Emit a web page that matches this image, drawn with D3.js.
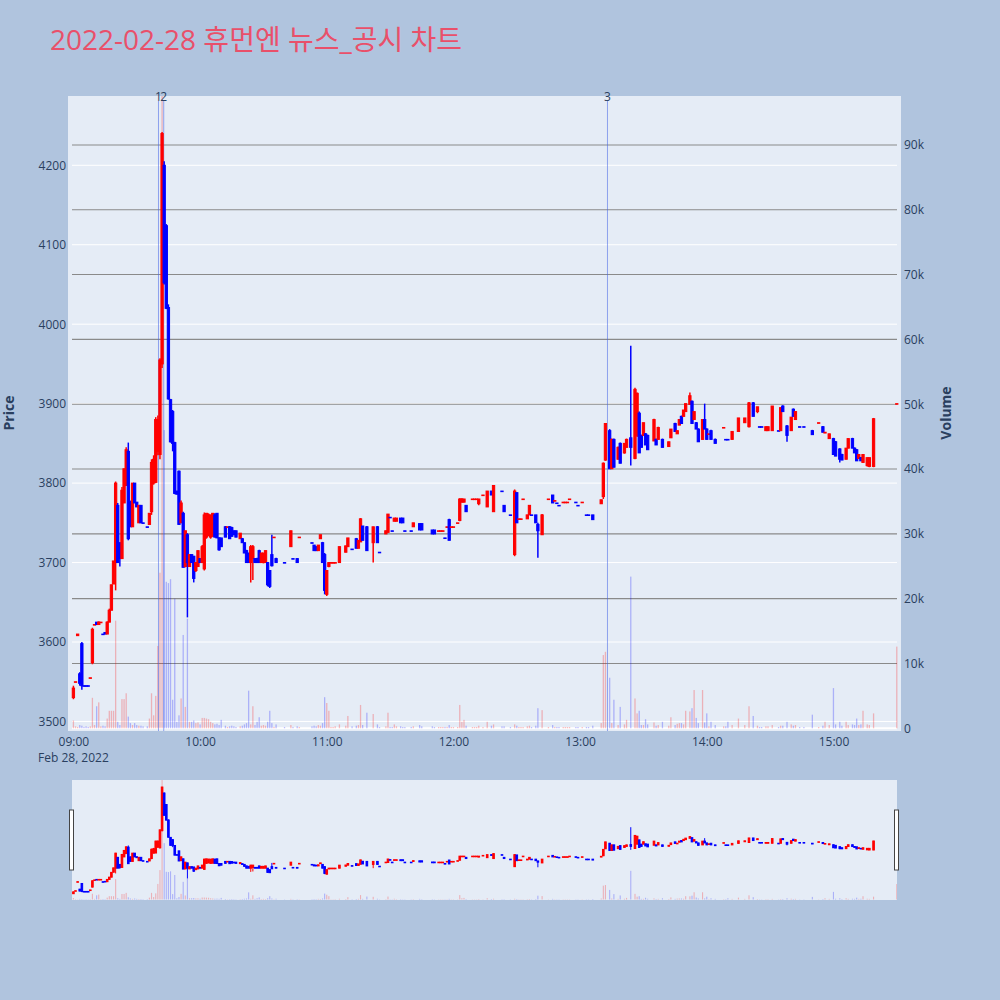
<!DOCTYPE html>
<html>
<head>
<meta charset="utf-8">
<script src="https://cdn.jsdelivr.net/npm/d3@7"></script>
<style>
  body { margin: 0; background: #b0c4de; }
  text { font-family: "Open Sans", "Noto Sans CJK KR", sans-serif; }
</style>
</head>
<body>
<svg id="chart" width="1000" height="1000"></svg>
<script>
// 1-minute candles, 2022-02-28 (one line per hour)
const times = [
  "09:00","09:01","09:02","09:03","09:04","09:05","09:06","09:07","09:08","09:09","09:10","09:11","09:12","09:13","09:14","09:15","09:16","09:17","09:18","09:19","09:20","09:21","09:22","09:23","09:24","09:25","09:26","09:27","09:28","09:29","09:30","09:31","09:32","09:33","09:35","09:36","09:37","09:38","09:39","09:40","09:41","09:42","09:43","09:44","09:45","09:46","09:47","09:48","09:49","09:50","09:51","09:52","09:53","09:54","09:55","09:56","09:57","09:58","09:59",
  "10:00","10:01","10:02","10:03","10:04","10:05","10:06","10:07","10:08","10:09","10:10","10:12","10:13","10:14","10:15","10:16","10:17","10:19","10:20","10:21","10:22","10:23","10:24","10:25","10:26","10:27","10:28","10:29","10:30","10:31","10:32","10:33","10:34","10:35","10:36","10:40","10:43","10:44","10:46","10:47","10:53","10:54","10:55","10:56","10:57","10:58","10:59",
  "11:00","11:01","11:02","11:03","11:04","11:06","11:09","11:10","11:12","11:14","11:15","11:16","11:17","11:19","11:22","11:24","11:25","11:28","11:29","11:30","11:31","11:32","11:33","11:35","11:36","11:37","11:40","11:41","11:44","11:45","11:50","11:51","11:53","11:54","11:55","11:56","11:57","11:58","11:59",
  "12:00","12:02","12:03","12:04","12:05","12:06","12:09","12:10","12:11","12:12","12:14","12:16","12:18","12:19","12:23","12:24","12:27","12:29","12:30","12:31","12:32","12:33","12:35","12:36","12:37","12:39","12:40","12:42","12:45","12:47","12:48","12:49","12:50","12:52","12:53","12:54","12:55","12:58","12:59",
  "13:01","13:03","13:04","13:06","13:10","13:11","13:12","13:14","13:15","13:16","13:18","13:19","13:21","13:22","13:24","13:26","13:27","13:28","13:29","13:30","13:31","13:32","13:35","13:36","13:37","13:39","13:42","13:43","13:45","13:46","13:47","13:48","13:49","13:50","13:52","13:53","13:54","13:55","13:56","13:58","13:59",
  "14:00","14:01","14:02","14:04","14:08","14:09","14:10","14:12","14:15","14:18","14:20","14:22","14:24","14:25","14:26","14:28","14:29","14:31","14:34","14:35","14:36","14:38","14:40","14:41","14:42","14:44","14:46","14:50","14:53","14:55","14:56","14:58",
  "15:00","15:01","15:03","15:04","15:06","15:07","15:09","15:10","15:11","15:12","15:13","15:14","15:16","15:17","15:19","15:30"
];
const opens = [
  3530,3550,3608,3560,3598,3545,3545,3545,3555,3574,3622,3625,3622,3625,3610,3612,3610,3625,3640,3673,3700,3772,3725,3705,3775,3797,3840,3775,3745,3800,3776,3750,3772,3750,3745,3748,3764,3800,3801,3840,3836,3950,4200,4124,4021,3905,3890,3851,3790,3815,3750,3762,3695,3735,3695,3710,3708,3690,3695,
  3705,3700,3692,3732,3735,3732,3733,3760,3762,3731,3731,3745,3745,3745,3744,3740,3740,3730,3730,3725,3715,3712,3700,3705,3705,3705,3715,3700,3700,3700,3700,3690,3710,3732,3705,3700,3720,3705,3705,3732,3725,3722,3720,3715,3730,3725,3710,
  3660,3695,3700,3700,3700,3700,3713,3720,3717,3730,3718,3726,3746,3745,3725,3745,3713,3736,3738,3757,3740,3752,3752,3756,3756,3740,3740,3745,3749,3749,3741,3741,3740,3740,3740,3731,3745,3754,3745,
  3745,3750,3753,3776,3776,3772,3780,3780,3780,3774,3785,3770,3790,3764,3790,3772,3760,3710,3788,3755,3755,3780,3755,3760,3760,3760,3748,3735,3780,3785,3778,3775,3772,3776,3776,3776,3780,3776,3772,
  3776,3760,3760,3760,3774,3783,3829,3866,3818,3855,3830,3850,3838,3845,3857,3831,3860,3888,3860,3860,3862,3860,3853,3855,3855,3855,3846,3857,3875,3862,3873,3884,3884,3890,3899,3903,3880,3876,3868,3855,3880,
  3868,3862,3866,3855,3870,3855,3855,3855,3865,3876,3871,3901,3890,3871,3871,3866,3866,3866,3866,3866,3897,3872,3866,3893,3880,3871,3871,3866,3876,3871,3863,3856,
  3856,3852,3843,3836,3830,3844,3856,3844,3842,3831,3832,3826,3822,3821,3821,3900
];
const highs = [
  3545,3550,3610,3562,3600,3545,3545,3545,3555,3618,3622,3625,3626,3625,3610,3612,3626,3642,3672,3702,3802,3775,3725,3795,3818,3845,3851,3778,3800,3800,3776,3772,3772,3750,3745,3762,3830,3835,3883,3885,3957,4242,4205,4126,4025,3906,3892,3852,3790,3816,3778,3764,3740,3737,3710,3710,3708,3700,3715,
  3705,3722,3763,3762,3762,3760,3762,3762,3762,3732,3731,3746,3745,3746,3745,3740,3740,3737,3731,3725,3716,3712,3722,3722,3705,3706,3716,3712,3712,3715,3700,3690,3735,3732,3706,3700,3740,3705,3705,3732,3725,3722,3720,3722,3735,3726,3712,
  3690,3700,3700,3700,3700,3720,3721,3731,3717,3731,3728,3756,3746,3746,3745,3746,3713,3740,3761,3757,3740,3756,3756,3756,3756,3740,3740,3750,3749,3749,3741,3741,3740,3740,3740,3731,3745,3755,3745,
  3745,3750,3781,3781,3780,3772,3780,3780,3780,3780,3785,3790,3790,3797,3790,3772,3760,3792,3788,3755,3755,3780,3760,3772,3760,3760,3750,3761,3780,3785,3778,3775,3772,3776,3776,3776,3780,3776,3772,
  3776,3760,3760,3760,3779,3826,3875,3868,3856,3856,3846,3851,3850,3856,3973,3920,3914,3890,3861,3876,3863,3861,3881,3856,3871,3856,3852,3868,3876,3866,3880,3885,3892,3900,3914,3904,3890,3877,3869,3880,3900,
  3869,3862,3867,3856,3870,3855,3855,3865,3882,3882,3902,3902,3896,3871,3871,3871,3871,3897,3866,3895,3898,3873,3883,3894,3890,3871,3871,3867,3876,3872,3864,3862,
  3857,3853,3844,3837,3844,3856,3857,3845,3843,3836,3833,3836,3832,3832,3882,3900
];
const lows = [
  3528,3550,3608,3545,3540,3545,3545,3545,3555,3572,3622,3622,3622,3625,3610,3610,3610,3625,3640,3673,3665,3700,3695,3705,3775,3797,3728,3745,3745,3775,3770,3750,3750,3750,3745,3748,3760,3798,3800,3835,3830,3945,4050,4019,3905,3851,3840,3786,3786,3748,3750,3694,3694,3631,3695,3700,3675,3688,3695,
  3700,3700,3690,3730,3733,3730,3733,3732,3731,3715,3720,3732,3745,3730,3733,3735,3732,3730,3725,3712,3700,3700,3675,3678,3700,3700,3700,3700,3699,3700,3670,3668,3695,3732,3700,3700,3720,3705,3700,3732,3725,3715,3715,3715,3730,3700,3660,
  3658,3694,3700,3700,3700,3700,3713,3720,3717,3718,3718,3726,3728,3715,3700,3725,3713,3736,3738,3757,3740,3752,3752,3750,3750,3740,3740,3745,3741,3741,3736,3736,3740,3740,3740,3731,3745,3728,3745,
  3745,3750,3752,3776,3776,3764,3780,3780,3780,3772,3785,3770,3785,3764,3790,3764,3760,3708,3750,3755,3755,3780,3755,3760,3760,3750,3706,3735,3780,3775,3778,3775,3772,3776,3776,3776,3780,3776,3772,
  3776,3760,3760,3754,3774,3780,3828,3818,3818,3820,3830,3825,3837,3845,3822,3830,3858,3838,3845,3860,3848,3842,3853,3848,3855,3845,3846,3857,3865,3862,3873,3875,3884,3890,3899,3875,3880,3868,3852,3855,3868,
  3855,3862,3855,3850,3870,3855,3855,3855,3865,3876,3870,3884,3888,3871,3871,3866,3866,3866,3866,3866,3890,3852,3866,3884,3880,3871,3871,3861,3876,3864,3863,3856,
  3836,3834,3826,3829,3830,3844,3844,3838,3828,3831,3828,3826,3821,3820,3820,3900
];
const closes = [
  3542,3550,3610,3548,3545,3545,3545,3545,3555,3616,3622,3622,3625,3625,3610,3610,3625,3640,3672,3702,3800,3700,3705,3791,3818,3842,3730,3745,3800,3775,3770,3772,3750,3750,3745,3762,3826,3830,3880,3880,3955,4240,4052,4020,3906,3852,3850,3787,3786,3748,3775,3694,3740,3700,3710,3700,3680,3700,3715,
  3700,3720,3760,3762,3760,3760,3762,3732,3731,3716,3720,3732,3745,3730,3733,3735,3732,3737,3725,3712,3700,3700,3720,3720,3700,3700,3700,3712,3712,3715,3672,3670,3696,3732,3700,3700,3740,3705,3700,3732,3725,3715,3715,3722,3735,3700,3665,
  3690,3700,3700,3700,3700,3720,3721,3731,3717,3718,3728,3755,3728,3715,3745,3725,3713,3740,3761,3757,3740,3756,3756,3750,3750,3740,3740,3750,3741,3741,3736,3736,3740,3740,3740,3731,3745,3728,3745,
  3745,3750,3780,3780,3780,3764,3780,3780,3780,3780,3785,3790,3785,3797,3790,3764,3760,3790,3750,3755,3755,3780,3760,3772,3760,3750,3740,3760,3780,3775,3778,3775,3772,3776,3776,3776,3780,3776,3772,
  3776,3760,3760,3754,3779,3825,3875,3818,3855,3820,3845,3825,3850,3855,3845,3918,3913,3838,3845,3876,3848,3842,3880,3848,3870,3845,3852,3868,3865,3866,3880,3875,3892,3900,3910,3875,3890,3868,3852,3880,3868,
  3855,3862,3855,3850,3870,3855,3855,3865,3882,3882,3901,3884,3896,3871,3871,3871,3871,3897,3866,3895,3890,3860,3883,3884,3890,3871,3871,3861,3876,3864,3864,3862,
  3836,3834,3830,3829,3844,3856,3844,3838,3828,3836,3828,3836,3832,3832,3881,3900
];
const volumes = [
  1200,300,200,500,400,200,300,200,300,4700,500,3400,4000,300,400,300,1500,2700,2700,2700,16600,1000,500,4500,4500,5400,1800,800,500,800,500,400,400,300,300,1500,5400,2000,5000,12700,24000,150000,46000,22600,22400,23000,4400,20000,1000,2000,4600,14400,3300,16900,1000,1000,1200,800,900,
  600,1600,1600,1500,1400,1000,800,600,700,500,1300,400,200,300,400,300,200,300,400,600,800,5800,600,3400,500,1000,1700,400,500,400,1000,2700,800,200,600,200,500,200,300,200,300,400,300,500,400,800,4800,
  3900,2700,200,200,300,600,400,1900,300,400,500,3600,500,2400,2200,600,200,300,2400,200,200,600,300,300,200,200,200,300,500,300,300,200,200,200,200,200,200,500,200,
  200,200,3600,1000,1300,400,200,200,200,400,200,1000,400,600,300,300,200,600,400,200,200,200,300,400,200,400,3100,2800,200,500,200,200,200,200,200,200,200,200,200,
  200,200,200,400,800,11300,11800,7800,800,4400,500,3300,600,1300,23400,4600,2300,2700,500,500,1400,600,900,400,500,1000,400,1700,500,700,800,800,600,2700,2600,3100,5900,1600,800,5900,900,
  2300,300,1000,500,300,300,1000,500,1500,500,3400,1900,400,200,200,300,300,500,200,400,400,1000,600,400,500,200,200,2100,200,400,1000,500,
  6200,600,1000,400,1000,500,600,500,1500,500,600,2700,600,500,2300,12600
];

// news / disclosure markers
const newsTimes = ["09:40:18", "09:42:47", "13:12:58"];
const newsLabels = ["1", "2", "3"];

const priceTicks = [3500, 3600, 3700, 3800, 3900, 4000, 4100, 4200];
const volumeTicks = [0, 10000, 20000, 30000, 40000, 50000, 60000, 70000, 80000, 90000];
const chartTitle = "2022-02-28 휴먼엔 뉴스_공시 차트";

const parseTime = d3.timeParse("%H:%M:%S");
const toDate = s => parseTime(s.length === 5 ? s + ":00" : s);

// plotly-like direction: equal open/close follows previous close / previous direction
let prevClose = null, prevUp = true;
const candles = times.map((t, i) => {
  const o = opens[i], c = closes[i];
  let up;
  if (c !== o) up = c > o;
  else if (prevClose !== null && c > prevClose) up = true;
  else if (prevClose !== null && c < prevClose) up = false;
  else up = prevUp;
  prevClose = c; prevUp = up;
  return {date: toDate(t), o, h: highs[i], l: lows[i], c, v: volumes[i], up};
});

const UP = "#ff0000", DOWN = "#0000ff";
const textColor = "#2a3f5f";

const plot = {left: 68, right: 901, top: 96, bottom: 731};
const rs = {left: 72, right: 897, top: 780, bottom: 900};

const x = d3.scaleTime()
  .domain([toDate("08:59:20"), toDate("15:30:06")])
  .range([72, 897]);
const yPrice = d3.scaleLinear().domain([3488, 4287.2]).range([plot.bottom, plot.top]);
const yVol = d3.scaleLinear().domain([-420, 97550]).range([plot.bottom, plot.top]);
const ySliderPrice = yPrice.copy().range([rs.bottom, rs.top]);
const ySliderVol = yVol.copy().range([rs.bottom, rs.top]);

const svg = d3.select("#chart");

svg.append("text")
  .attr("x", 50).attr("y", 50)
  .attr("font-size", 28)
  .attr("fill", "#e9506a")
  .text(chartTitle);

svg.append("defs").append("clipPath").attr("id", "clip")
  .append("rect")
  .attr("x", plot.left).attr("y", plot.top)
  .attr("width", plot.right - plot.left).attr("height", plot.bottom - plot.top);

svg.append("rect")
  .attr("x", plot.left).attr("y", plot.top)
  .attr("width", plot.right - plot.left).attr("height", plot.bottom - plot.top)
  .attr("fill", "#e5ecf6");

// grids
svg.append("g").selectAll("line").data(priceTicks).join("line")
  .attr("x1", 72).attr("x2", 897)
  .attr("y1", d => yPrice(d)).attr("y2", d => yPrice(d))
  .attr("stroke", "#fff").attr("stroke-width", 1);
svg.append("g").selectAll("line").data(volumeTicks).join("line")
  .attr("x1", 72).attr("x2", 897)
  .attr("y1", d => yVol(d)).attr("y2", d => yVol(d))
  .attr("stroke", d => d === 0 ? "#fff" : "#8a8a8a")
  .attr("stroke-width", d => d === 0 ? 2 : 1.1);

const main = svg.append("g").attr("clip-path", "url(#clip)");

function drawVolume(g, ys, w) {
  g.selectAll("rect").data(candles).join("rect")
    .attr("x", d => x(d.date) - w / 2)
    .attr("width", w)
    .attr("y", d => ys(d.v))
    .attr("height", d => ys(0) - ys(d.v))
    .attr("fill", d => d.up ? "rgba(255,0,0,0.25)" : "rgba(0,0,255,0.25)");
}

function drawCandles(g, ys, bodyW, wickW) {
  const c = g.selectAll("g").data(candles).join("g");
  c.append("line")
    .attr("x1", d => x(d.date)).attr("x2", d => x(d.date))
    .attr("y1", d => ys(d.h)).attr("y2", d => ys(d.l))
    .attr("stroke", d => d.up ? UP : DOWN)
    .attr("stroke-width", wickW);
  c.append("rect")
    .attr("x", d => x(d.date) - bodyW / 2)
    .attr("width", bodyW)
    .attr("y", d => ys(Math.max(d.o, d.c)))
    .attr("height", d => Math.max(0.6, Math.abs(ys(d.o) - ys(d.c))))
    .attr("fill", d => d.up ? UP : DOWN)
    .attr("stroke", d => d.up ? UP : DOWN)
    .attr("stroke-width", 1);
}

drawVolume(main.append("g"), yVol, 1.3);

main.append("g").selectAll("line").data(newsTimes).join("line")
  .attr("x1", d => x(toDate(d))).attr("x2", d => x(toDate(d)))
  .attr("y1", 101).attr("y2", plot.bottom)
  .attr("stroke", "rgba(70,100,230,0.55)")
  .attr("stroke-width", 1);

drawCandles(main.append("g"), yPrice, 2.3, 1.5);

svg.append("g").selectAll("text").data(newsTimes).join("text")
  .attr("x", d => x(toDate(d))).attr("y", 101)
  .attr("text-anchor", "middle")
  .attr("font-size", 12)
  .attr("fill", textColor)
  .text((d, i) => newsLabels[i]);

// axes
const yAxisLeft = svg.append("g")
  .attr("transform", `translate(${plot.left},0)`)
  .call(d3.axisLeft(yPrice).tickValues(priceTicks).tickSize(0).tickPadding(2)
    .tickFormat(d => String(d)));
const yAxisRight = svg.append("g")
  .attr("transform", `translate(${plot.right},0)`)
  .call(d3.axisRight(yVol).tickValues(volumeTicks).tickSize(0).tickPadding(3)
    .tickFormat(d => d === 0 ? "0" : d / 1000 + "k"));
const xAxis = svg.append("g")
  .attr("transform", `translate(0,${plot.bottom})`)
  .call(d3.axisBottom(x).ticks(d3.timeHour.every(1)).tickSize(0).tickPadding(6)
    .tickFormat(d3.timeFormat("%H:%M")));
[yAxisLeft, yAxisRight, xAxis].forEach(g => {
  g.select(".domain").remove();
  g.selectAll("text").attr("font-size", 12).attr("fill", textColor)
    .attr("font-family", "'Open Sans', sans-serif");
});

svg.append("text")
  .attr("x", x(toDate("09:00"))).attr("y", 762)
  .attr("text-anchor", "middle").attr("font-size", 12).attr("fill", textColor)
  .text("Feb 28, 2022");

svg.append("text")
  .attr("transform", "translate(14,413) rotate(-90)")
  .attr("text-anchor", "middle").attr("font-size", 14).attr("font-weight", "bold")
  .attr("fill", textColor).text("Price");
svg.append("text")
  .attr("transform", "translate(951,413) rotate(-90)")
  .attr("text-anchor", "middle").attr("font-size", 14).attr("font-weight", "bold")
  .attr("fill", textColor).text("Volume");

// range slider
svg.append("rect")
  .attr("x", rs.left).attr("y", rs.top)
  .attr("width", rs.right - rs.left).attr("height", rs.bottom - rs.top)
  .attr("fill", "#e5ecf6");
svg.append("defs").append("clipPath").attr("id", "clip2")
  .append("rect")
  .attr("x", rs.left).attr("y", rs.top)
  .attr("width", rs.right - rs.left).attr("height", rs.bottom - rs.top);
const mini = svg.append("g").attr("clip-path", "url(#clip2)");
drawVolume(mini.append("g"), ySliderVol, 1.1);
drawCandles(mini.append("g"), ySliderPrice, 1.6, 1);

svg.append("g").selectAll("rect").data([rs.left, rs.right]).join("rect")
  .attr("x", d => d - 2.5).attr("y", 810)
  .attr("width", 4).attr("height", 60)
  .attr("fill", "#fff").attr("stroke", "#444").attr("stroke-width", 1);

const lens = [times, opens, highs, lows, closes, volumes].map(a => a.length);
if (new Set(lens).size > 1) {
  svg.append("text").attr("x", 500).attr("y", 960).attr("text-anchor", "middle")
    .attr("fill", "black").text("length mismatch: " + lens.join(","));
}
</script>
</body>
</html>
